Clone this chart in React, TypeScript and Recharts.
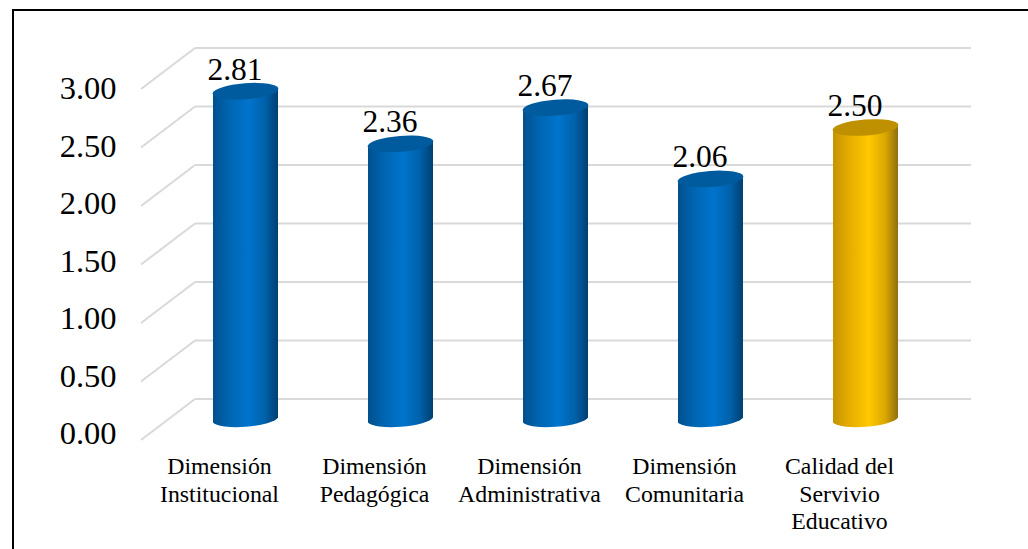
import { Bar, BarChart, CartesianGrid, LabelList, XAxis, YAxis } from 'recharts';

const categories = [
  'Dimensión\nInstitucional',
  'Dimensión\nPedagógica',
  'Dimensión\nAdministrativa',
  'Dimensión\nComunitaria',
  'Calidad del\nServivio\nEducativo',
];
const scores = [2.81, 2.36, 2.67, 2.06, 2.5];
const yTicks = [0, 0.5, 1, 1.5, 2, 2.5, 3];

const rows = categories.map((category, i) => ({ category, score: scores[i] }));

const FONT = '"Liberation Serif", "Times New Roman", serif';
const GRID = '#d9d9d9';
const TEXT = '#000';

// fake 3D: the bars stand in front of the back wall, the axis labels further forward
const BAR_DX = -27;
const BAR_DY = 21;
const FLOOR_DX = -54;
const FLOOR_DY = 41;
const TILT = 2.5;
const TICK_GAP = 8;

function YTick({ x, y, payload }: any) {
  const wallX = x + TICK_GAP;
  const labelY = 88 + (y - 48) * (345 / 351);
  return (
    <g>
      <line x1={wallX} y1={y} x2={wallX + FLOOR_DX} y2={y + FLOOR_DY} stroke={GRID} strokeWidth={2} />
      <text
        x={116.5}
        y={labelY}
        dy="0.34em"
        textAnchor="end"
        fontFamily={FONT}
        fontSize={32.5}
        fill={TEXT}
      >
        {Number(payload.value).toFixed(2)}
      </text>
    </g>
  );
}

function XTick({ x, payload }: any) {
  const lines = String(payload.value).split('\n');
  return (
    <text textAnchor="middle" fontFamily={FONT} fontSize={23.8} fill={TEXT}>
      {lines.map((line, i) => (
        <tspan key={line} x={x - 53} y={474 + i * 27.5}>
          {line}
        </tspan>
      ))}
    </text>
  );
}

function Cylinder({ x, y, width, height, index }: any) {
  const gold = index === 4;
  const left = x + BAR_DX;
  const right = left + width;
  const top = y + BAR_DY;
  const base = y + height + BAR_DY;
  const cx = left + width / 2;
  const body = [
    `M${left},${top + TILT}`,
    `L${left},${base + TILT}`,
    `A33,8,-4.4,0,0,${right},${base - TILT}`,
    `L${right},${top - TILT}`,
    'Z',
  ].join(' ');
  return (
    <g>
      <path d={body} fill={gold ? 'url(#goldSide)' : 'url(#blueSide)'} />
      <ellipse
        cx={cx}
        cy={top}
        rx={33}
        ry={8}
        transform={`rotate(-4.4 ${cx} ${top})`}
        fill={gold ? '#bf9000' : '#005b9e'}
      />
    </g>
  );
}

function ScoreLabel({ x, y, width, value }: any) {
  return (
    <text
      x={x + width / 2 + BAR_DX - 10.5}
      y={y + BAR_DY - 11.5}
      textAnchor="middle"
      fontFamily={FONT}
      fontSize={31.5}
      fill={TEXT}
    >
      {Number(value).toFixed(2)}
    </text>
  );
}

export default function App() {
  return (
    <div
      style={{
        position: 'fixed',
        left: 0,
        top: 0,
        width: 1028,
        height: 549,
        overflow: 'hidden',
        background: '#fff',
      }}
    >
      <div
        style={{
          position: 'absolute',
          left: 12,
          top: 9,
          width: 1100,
          height: 600,
          border: '2px solid #000',
        }}
      />
      <div style={{ position: 'absolute', left: 0, top: 0 }}>
        <BarChart
          width={1028}
          height={549}
          data={rows}
          margin={{ top: 48, right: 57, bottom: 0, left: 0 }}
          barSize={65}
        >
          <defs>
            <linearGradient id="blueSide" x1="0" y1="0" x2="1" y2="0">
              <stop offset="0" stopColor="#004f8c" />
              <stop offset="0.25" stopColor="#0066b2" />
              <stop offset="0.55" stopColor="#0074cc" />
              <stop offset="0.8" stopColor="#0061aa" />
              <stop offset="1" stopColor="#003f70" />
            </linearGradient>
            <linearGradient id="goldSide" x1="0" y1="0" x2="1" y2="0">
              <stop offset="0" stopColor="#c49400" />
              <stop offset="0.25" stopColor="#e6ad00" />
              <stop offset="0.55" stopColor="#ffc800" />
              <stop offset="0.8" stopColor="#dca800" />
              <stop offset="1" stopColor="#8f6f10" />
            </linearGradient>
          </defs>
          <CartesianGrid vertical={false} stroke={GRID} strokeWidth={2} />
          <XAxis
            dataKey="category"
            height={150}
            interval={0}
            axisLine={false}
            tickLine={false}
            padding={{ left: 0, right: 1 }}
            tick={<XTick />}
          />
          <YAxis
            width={195}
            domain={[0, 3]}
            ticks={yTicks}
            axisLine={false}
            tickLine={false}
            tick={<YTick />}
          />
          <Bar dataKey="score" shape={<Cylinder />} isAnimationActive={false}>
            <LabelList dataKey="score" content={<ScoreLabel />} />
          </Bar>
        </BarChart>
      </div>
    </div>
  );
}
